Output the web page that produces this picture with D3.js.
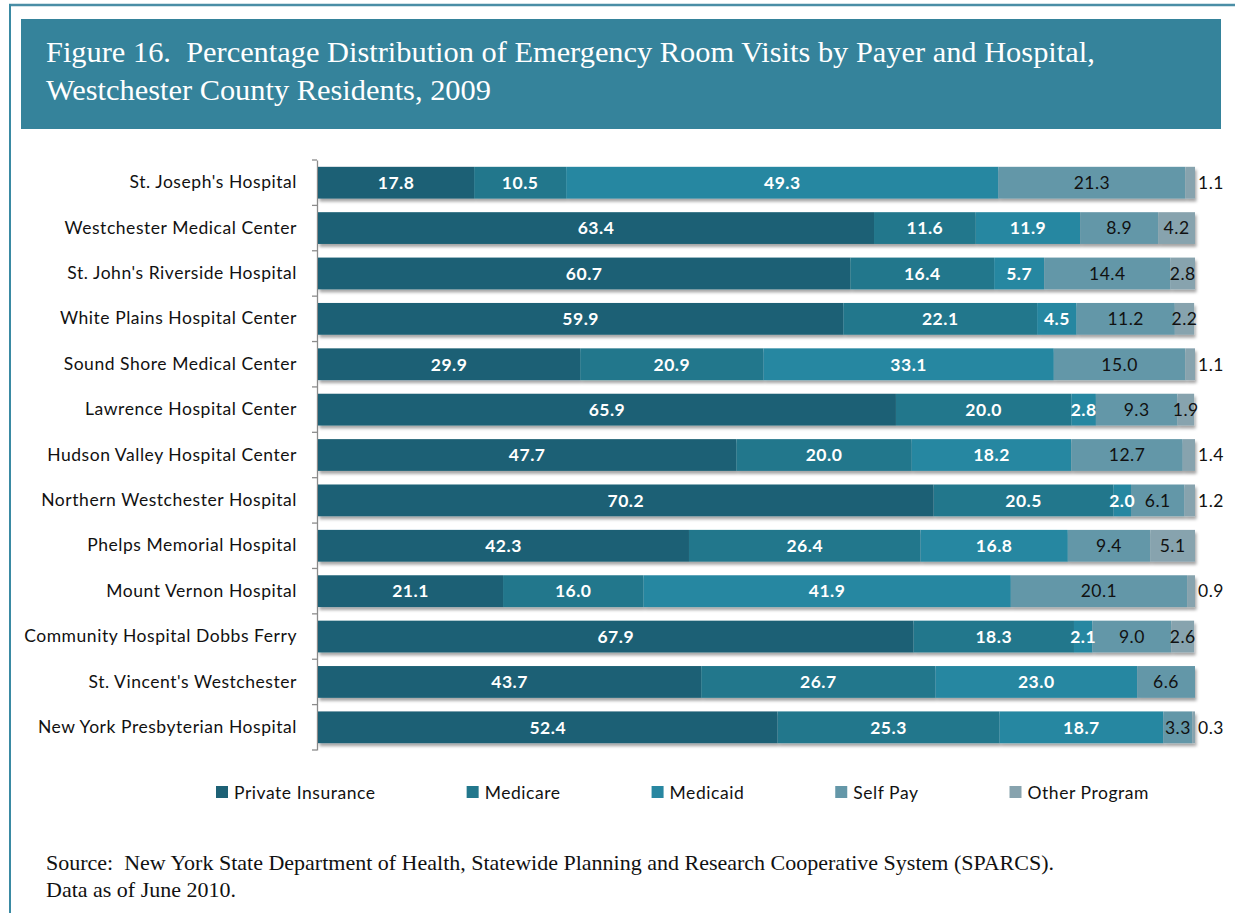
<!DOCTYPE html>
<html>
<head>
<meta charset="utf-8">
<style>
  body { margin: 0; background: #ffffff; }
  #chart { width: 1235px; height: 913px; }
  .cat text { font-family: Lato, "Open Sans", sans-serif; font-size: 17.5px; letter-spacing: 0.55px; fill: #111; }
</style>
</head>
<body>
<div id="chart"></div>
<script src="https://cdn.jsdelivr.net/npm/d3@7"></script>
<script>
// hospitals, top to bottom
const hospitals = [
  "St. Joseph's Hospital",
  "Westchester Medical Center",
  "St. John's Riverside Hospital",
  "White Plains Hospital Center",
  "Sound Shore Medical Center",
  "Lawrence Hospital Center",
  "Hudson Valley Hospital Center",
  "Northern Westchester Hospital",
  "Phelps Memorial Hospital",
  "Mount Vernon Hospital",
  "Community Hospital Dobbs Ferry",
  "St. Vincent's Westchester",
  "New York Presbyterian Hospital"
];

const payers = ["Private Insurance", "Medicare", "Medicaid", "Self Pay", "Other Program"];

const privateInsurance = [17.8, 63.4, 60.7, 59.9, 29.9, 65.9, 47.7, 70.2, 42.3, 21.1, 67.9, 43.7, 52.4];
const medicare         = [10.5, 11.6, 16.4, 22.1, 20.9, 20.0, 20.0, 20.5, 26.4, 16.0, 18.3, 26.7, 25.3];
const medicaid         = [49.3, 11.9,  5.7,  4.5, 33.1,  2.8, 18.2,  2.0, 16.8, 41.9,  2.1, 23.0, 18.7];
const selfPay          = [21.3,  8.9, 14.4, 11.2, 15.0,  9.3, 12.7,  6.1,  9.4, 20.1,  9.0,  6.6,  3.3];
const otherProgram     = [ 1.1,  4.2,  2.8,  2.2,  1.1,  1.9,  1.4,  1.2,  5.1,  0.9,  2.6,  0.0,  0.3];

const colors = ["#1d6175", "#22778c", "#2887a1", "#6497a8", "#87a3ae"];

const titleLines = [
  "Figure 16.  Percentage Distribution of Emergency Room Visits by Payer and Hospital,",
  "Westchester County Residents, 2009"
];
const sourceLines = [
  "Source:  New York State Department of Health, Statewide Planning and Research Cooperative System (SPARCS).",
  "Data as of June 2010."
];

const width = 1235, height = 913;
const margin = { top: 160, right: 40, bottom: 163, left: 318 };

const seriesValues = [privateInsurance, medicare, medicaid, selfPay, otherProgram];
const rows = hospitals.map((h, i) => {
  const r = { hospital: h };
  payers.forEach((p, j) => { r[p] = seriesValues[j][i]; });
  return r;
});

const stacked = d3.stack().keys(payers)(rows);

const svg = d3.select("#chart").append("svg")
  .attr("width", width)
  .attr("height", height)
  .attr("viewBox", `0 0 ${width} ${height}`);

const defs = svg.append("defs");
const shadow = defs.append("filter").attr("id", "shadow")
  .attr("x", "-2%").attr("y", "-20%").attr("width", "104%").attr("height", "160%");
shadow.append("feDropShadow")
  .attr("dx", 1.5).attr("dy", 3).attr("stdDeviation", 1.6)
  .attr("flood-color", "#000").attr("flood-opacity", 0.35);

// page frame
svg.append("line").attr("x1", 9).attr("x2", width).attr("y1", 5).attr("y2", 5)
  .attr("stroke", "#4a8ea6").attr("stroke-width", 2.5);
svg.append("line").attr("x1", 10).attr("x2", 10).attr("y1", 4).attr("y2", height)
  .attr("stroke", "#3a8aa3").attr("stroke-width", 2);

// title banner
svg.append("rect").attr("x", 21).attr("y", 19).attr("width", 1200).attr("height", 110)
  .attr("fill", "#35839b");
svg.append("g").selectAll("text")
  .data(titleLines)
  .join("text")
  .attr("x", 46)
  .attr("y", (d, i) => 62 + i * 38)
  .attr("fill", "#fff")
  .style("white-space", "pre")
  .style("font-family", "'Liberation Serif', 'DejaVu Serif', serif")
  .style("font-size", "30.4px")
  .text(d => d);

const x = d3.scaleLinear().domain([0, 100]).range([margin.left, width - margin.right]);
const y = d3.scaleBand().domain(hospitals)
  .range([margin.top, height - margin.bottom])
  .paddingInner(0.3).paddingOuter(0.15);

// category axis
const axis = svg.append("g")
  .attr("class", "cat")
  .attr("transform", `translate(${margin.left - 1},0)`)
  .call(d3.axisLeft(y).tickSize(0).tickPadding(20).tickSizeOuter(0));
axis.select(".domain").attr("stroke", "#8c8c8c").attr("stroke-width", 1.3);

// boundary ticks between categories
const bounds = d3.range(hospitals.length + 1).map(i => y.range()[0] + i * y.step());
axis.selectAll(".bound")
  .data(bounds)
  .join("line")
  .attr("class", "bound")
  .attr("x1", -5).attr("x2", 0)
  .attr("y1", d => d).attr("y2", d => d)
  .attr("stroke", "#8c8c8c").attr("stroke-width", 1.3);

// bars
const barRows = svg.append("g").selectAll("g")
  .data(hospitals)
  .join("g")
  .attr("filter", "url(#shadow)");

barRows.selectAll("rect")
  .data((h, i) => stacked.map((s, j) => ({ key: s.key, j, d: s[i], h })))
  .join("rect")
  .attr("x", d => x(d.d[0]))
  .attr("y", d => y(d.h))
  .attr("width", d => Math.max(0, x(d.d[1]) - x(d.d[0])))
  .attr("height", y.bandwidth())
  .attr("fill", d => colors[d.j]);

// value labels
const labels = [];
stacked.forEach((s, j) => {
  s.forEach((d, i) => {
    const v = d[1] - d[0];
    if (v <= 0) return;
    labels.push({ j, v: seriesValues[j][i], x0: d[0], x1: d[1], h: hospitals[i] });
  });
});

svg.append("g").selectAll("text")
  .data(labels)
  .join("text")
  .attr("x", d => (d.j === 4 && d.v < 1.5) ? x(d.x1) + 3 : x((d.x0 + d.x1) / 2))
  .attr("y", d => y(d.h) + y.bandwidth() / 2)
  .attr("dy", "0.36em")
  .attr("text-anchor", d => (d.j === 4 && d.v < 1.5) ? "start" : "middle")
  .attr("fill", d => d.j < 3 ? "#ffffff" : "#111111")
  .style("font-family", "Lato, 'Open Sans', sans-serif")
  .style("font-size", "17.5px")
  .style("letter-spacing", "0.5px")
  .style("font-weight", d => d.j < 3 ? "bold" : "normal")
  .text(d => d.v.toFixed(1));

// legend
const legend = svg.append("g").attr("transform", "translate(216,786)");
let lx = 0;
payers.forEach((p, j) => {
  const g = legend.append("g").attr("transform", `translate(${lx},0)`);
  g.append("rect").attr("width", 12).attr("height", 12).attr("fill", colors[j]);
  const t = g.append("text")
    .attr("x", 18).attr("y", 12.5)
    .attr("fill", "#111")
    .style("font-family", "Lato, 'Open Sans', sans-serif")
    .style("font-size", "17.5px")
    .style("letter-spacing", "0.55px")
    .text(p);
  lx += 18 + t.node().getComputedTextLength() + 91;
});

// source note
svg.append("g").selectAll("text")
  .data(sourceLines)
  .join("text")
  .attr("x", 46)
  .attr("y", (d, i) => 870 + i * 27)
  .attr("fill", "#111")
  .style("white-space", "pre")
  .style("font-family", "'Liberation Serif', 'DejaVu Serif', serif")
  .style("font-size", "22px")
  .text(d => d);
</script>
</body>
</html>
